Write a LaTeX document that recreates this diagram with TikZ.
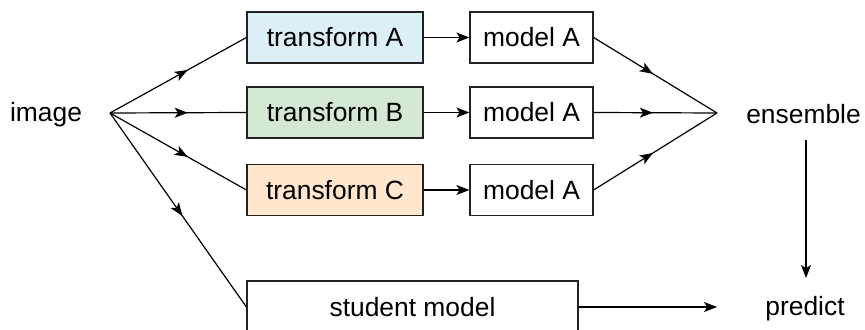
\documentclass[tikz,border=0pt]{standalone}
\usepackage{fontspec}
\setmainfont{Liberation Sans}
\usetikzlibrary{arrows.meta,decorations.markings}
\definecolor{fillA}{HTML}{DDEFF6}
\definecolor{fillB}{HTML}{D5E8D4}
\definecolor{fillC}{HTML}{FFE6CC}
\definecolor{edge}{HTML}{222222}
\begin{document}
\begin{tikzpicture}[x=0.5pt,y=-0.5pt,
  every node/.style={font=\fontsize{13.2pt}{15pt}\selectfont, text=black},
  box/.style={draw=edge, line width=0.6pt, rectangle, inner sep=0pt},
  tbox/.style={box, minimum width=88pt, minimum height=25.5pt},
  mbox/.style={box, minimum width=61.5pt, minimum height=25.5pt},
  tip/.style={-{Stealth[length=6.5pt,width=5pt,inset=1.6pt]}},
  conn/.style={line width=0.6pt, draw=black},
  midarrow/.style={postaction={decorate}, decoration={markings,
     mark=at position #1 with {\arrow{Stealth[length=6.5pt,width=5pt,inset=1.6pt]}}}}
]
\useasboundingbox (0,0) rectangle (865,330);
\clip (0,0) rectangle (865,330);

% labels
\node[anchor=center] (img) at (46,115) {image};
\node[anchor=center] (ens) at (803.5,114) {ensemble};
\node[anchor=center] (pred) at (805,309) {predict};

% fan points
\coordinate (f1) at (110,113);
\coordinate (f2) at (717,113);
\coordinate (p2) at (717,307);
\coordinate (e1) at (806,140);
\coordinate (e2) at (806,278);

% transform boxes
\node[tbox, fill=fillA] (tA) at (335,37.5) {transform A};
\node[tbox, fill=fillB] (tB) at (335,112.5) {transform B};
\node[tbox, fill=fillC] (tC) at (335,190) {transform C};

% model boxes
\node[mbox, fill=white] (mA) at (531.5,37.5) {model A};
\node[mbox, fill=white] (mB) at (531.5,112.5) {model A};
\node[mbox, fill=white] (mC) at (531.5,190) {model A};

% student box (bottom cut off by page edge)
\node[box, fill=white, minimum width=165.5pt, minimum height=26pt] (stu) at (412.5,307) {student model};

% fan out from image
\draw[conn, midarrow=0.57] (f1) -- (tA.west);
\draw[conn, midarrow=0.57] (f1) -- (tB.west);
\draw[conn, midarrow=0.57] (f1) -- (tC.west);
\draw[conn, midarrow=0.53] (f1) -- (stu.west);

% transform -> model
\draw[conn, tip] (tA.east) -- (mA.west);
\draw[conn, tip] (tB.east) -- (mB.west);
\draw[conn, tip] (tC.east) -- (mC.west);

% models -> ensemble point
\draw[conn, midarrow=0.48] (mA.east) -- (f2);
\draw[conn, midarrow=0.48] (mB.east) -- (f2);
\draw[conn, midarrow=0.48] (mC.east) -- (f2);

% ensemble -> predict
\draw[conn, tip] (e1) -- (e2);

% student -> predict
\draw[conn, tip] (stu.east) -- (p2);
\end{tikzpicture}
\end{document}
